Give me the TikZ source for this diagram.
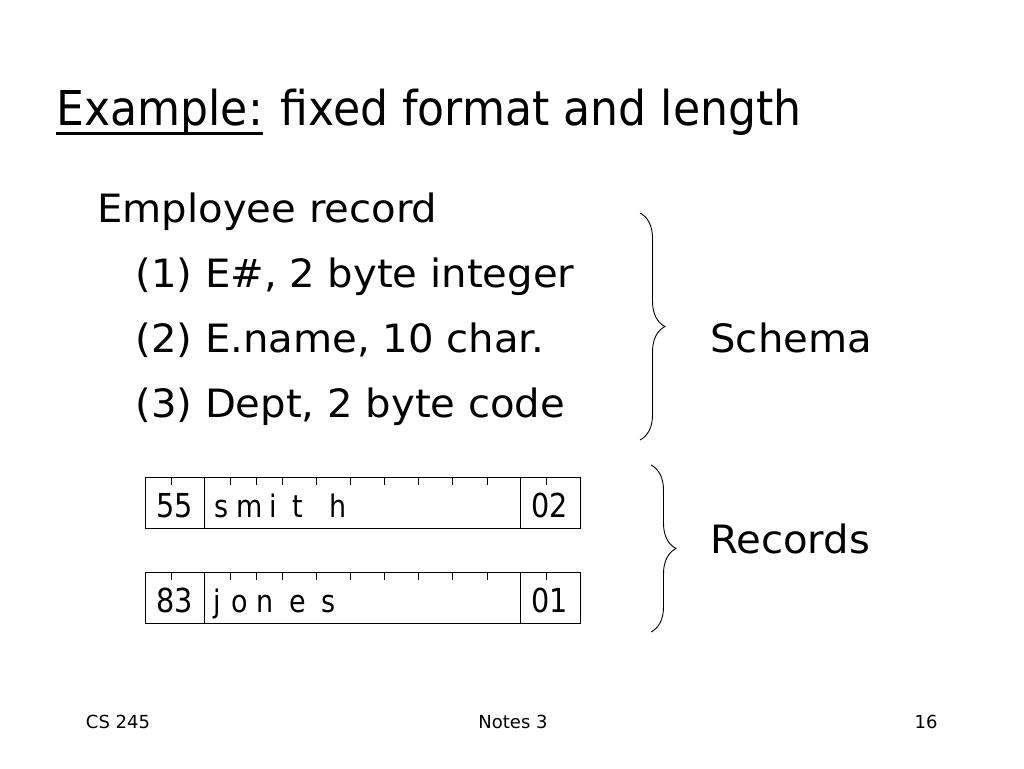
\documentclass[tikz,border=0pt]{standalone}
\usepackage{fontspec}
\setmainfont{DejaVu Sans}
\newfontfamily\titlefont[FakeStretch=0.92]{DejaVu Sans}
\newfontfamily\bodyfont[FakeStretch=1.03]{DejaVu Sans}
\newfontfamily\cellfont[FakeStretch=0.87]{DejaVu Sans}
\usetikzlibrary{decorations.pathreplacing}

\tikzset{
  head/.style={anchor=base west, inner sep=0pt, font=\titlefont\fontsize{48}{56}\selectfont},
  body/.style={anchor=base west, inner sep=0pt, font=\bodyfont\fontsize{39}{46}\selectfont},
  cell/.style={anchor=base west, inner sep=0pt, font=\cellfont\fontsize{33}{40}\selectfont},
  letter/.style={anchor=base west, inner sep=0pt, font=\cellfont\fontsize{31}{36}\selectfont},
  foot/.style={anchor=base, inner sep=0pt, font=\fontsize{18}{22}\selectfont},
  curly/.style={decorate, decoration={brace, amplitude=25pt}, line width=0.9pt},
}

\begin{document}
\begin{tikzpicture}[x=1pt, y=-1pt, line width=0.8pt]
  \useasboundingbox (0,0) rectangle (1024,768);

  % title
  \node[head] (example) at (56,125) {Example:};
  \node[head] (topic) at (280,125) {fixed format and length};
  \draw[line width=3pt] ([yshift=-8pt]example.base west) -- ([yshift=-8pt]example.base east);

  % schema text
  \node[body] (emp) at (97,222) {Employee record};
  \node[body] (f1) at (135,287) {(1) E\#, 2 byte integer};
  \node[body] (f2) at (135,352) {(2) E.name, 10 char.};
  \node[body] (f3) at (135,417) {(3) Dept, 2 byte code};
  \node[body] (schema) at (710,352) {Schema};
  \node[body] (records) at (710,553) {Records};

  % braces
  \draw[curly] (640,213) -- (640,440);
  \draw[curly] (651,465) -- (651,632);

  % the two records
  \foreach \y/\id/\dept [count=\r] in {477/55/02, 572/83/01} {
    \draw (145,\y) rectangle (580,\y+51);
    \draw (204,\y) -- (204,\y+51);
    \draw (520,\y) -- (520,\y+51);
    \foreach \x in {171,230,256,282,316,350,384,418,452,487,546}
      \draw (\x,\y) -- (\x,\y+8);
    \node[cell] (id\r) at (156,\y+40) {\id};
    \node[cell] (dept\r) at (531,\y+40) {\dept};
  }
  \foreach \c/\x in {s/214, m/236, i/269, t/292, h/329}
    \node[letter] (smith\c) at (\x,517) {\c};
  \foreach \c/\x in {j/213, o/231, n/256, e/289, s/321}
    \node[letter] (jones\c) at (\x,612) {\c};

  % footer
  \node[foot] (course) at (118,728) {CS 245};
  \node[foot] (notes) at (513,728) {Notes 3};
  \node[foot] (page) at (926,728) {16};
\end{tikzpicture}
\end{document}
